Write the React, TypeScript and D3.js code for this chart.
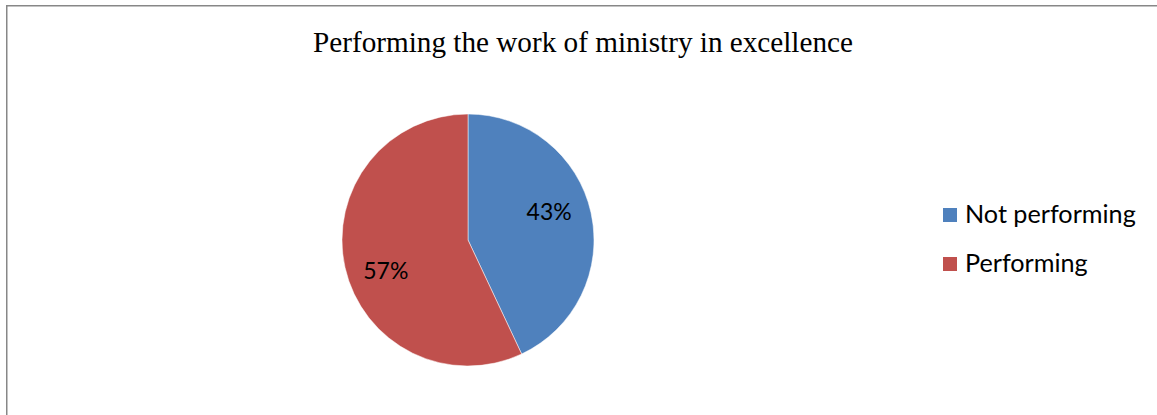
import React from "react";
import * as d3 from "d3";

const title = "Performing the work of ministry in excellence";
const categories = ["Not performing", "Performing"];
const values = [43, 57];
const labels = ["43%", "57%"];
const colors = ["#4F81BD", "#C0504D"];
// label nudges from the arc centroid (Excel-style placement)
const labelNudge: [number, number][] = [[0, -9.5], [-1, 12.5]];

const W = 1157;
const H = 415;

export default function App() {
  const cx = 468;
  const cy = 240;
  const r = 126;
  const pie = d3.pie<number>().sort(null).value((d) => d)(values);
  const arc = d3.arc<d3.PieArcDatum<number>>().innerRadius(0).outerRadius(r);
  const labelArc = d3.arc<d3.PieArcDatum<number>>().innerRadius(r * 0.66).outerRadius(r * 0.66);
  return (
    <svg width={W} height={H} style={{ position: "absolute", left: 0, top: 0, background: "#fff" }}>
      <rect x={6.75} y={5.75} width={W + 10} height={H + 10} fill="#fff" stroke="#878787" strokeWidth={1.5} />
      <text x={583} y={52} textAnchor="middle" fontFamily="'Liberation Serif', 'Times New Roman', serif" fontSize={29.2} fill="#000">
        {title}
      </text>
      <g transform={`translate(${cx},${cy})`}>
        {pie.map((p, i) => (
          <path key={i} d={arc(p) || ""} fill={colors[i]} stroke="#fff" strokeWidth={0.5} />
        ))}
        {pie.map((p, i) => {
          const [lx, ly] = labelArc.centroid(p);
          return (
            <text key={"l" + i} x={lx + labelNudge[i][0]} y={ly + labelNudge[i][1]} dy="0.35em" textAnchor="middle" fontFamily="Lato, sans-serif" fontSize={23} fill="#000">
              {labels[i]}
            </text>
          );
        })}
      </g>
      {categories.map((c, i) => (
        <g key={c} transform={`translate(943,${208 + i * 49})`}>
          <rect x={0} y={0} width={14} height={14} fill={colors[i]} />
          <text x={22} y={15} fontFamily="Lato, sans-serif" fontSize={25.2} fill="#000">
            {c}
          </text>
        </g>
      ))}
    </svg>
  );
}
